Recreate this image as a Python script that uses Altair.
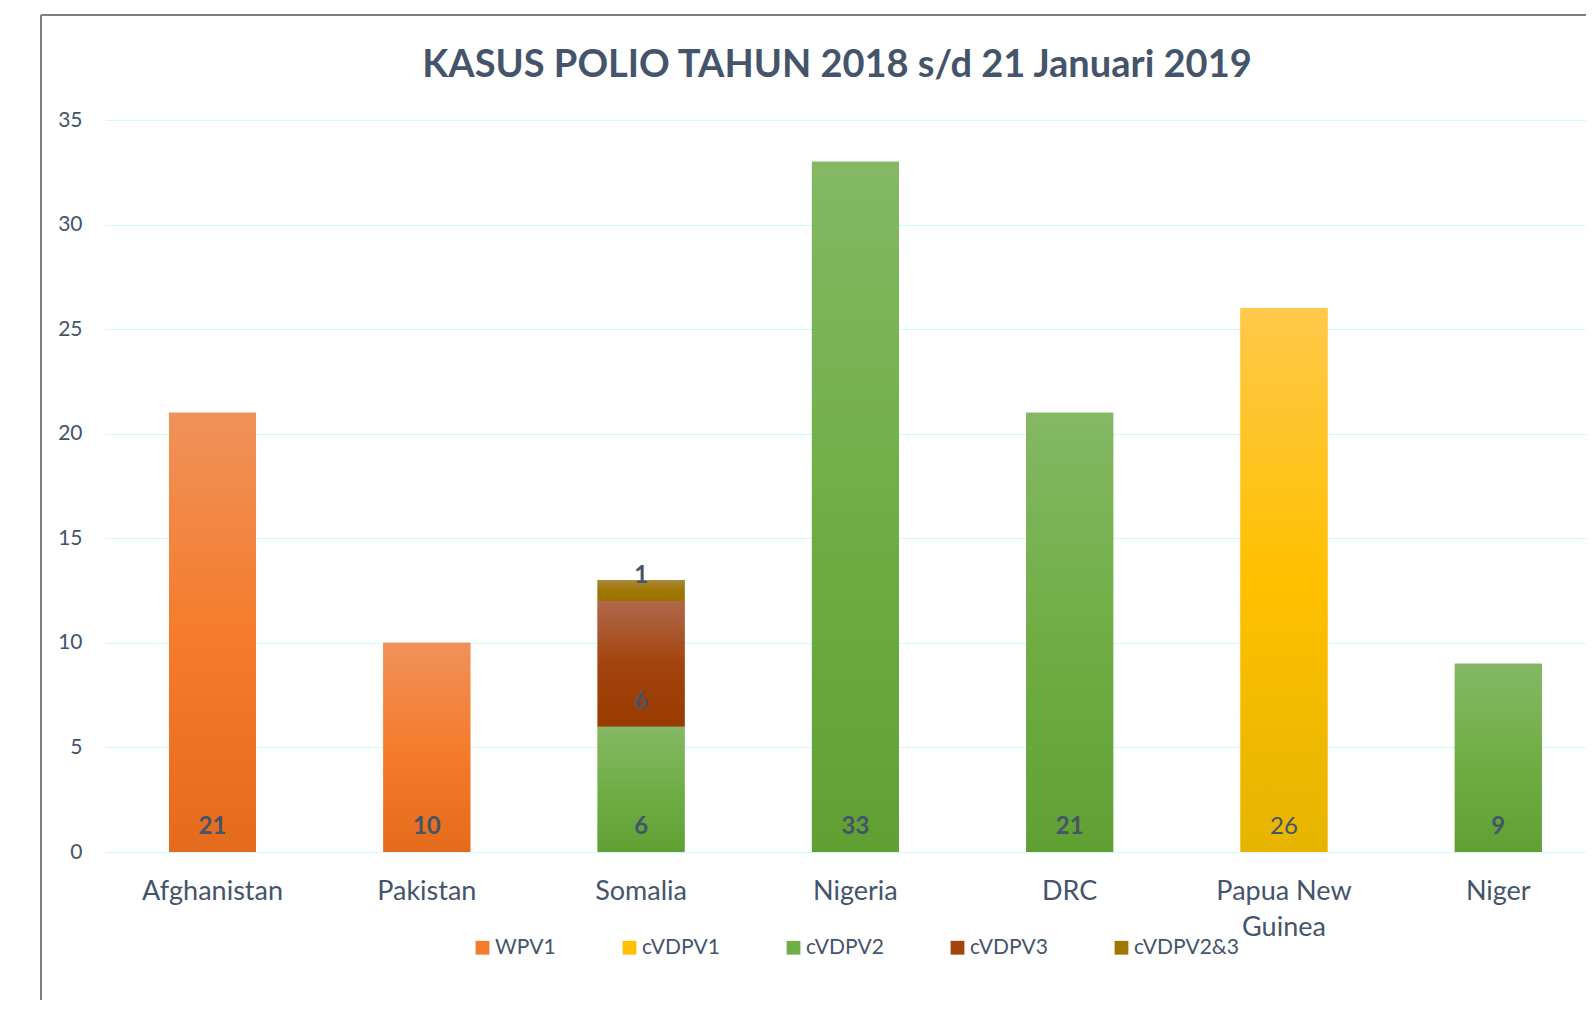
import altair as alt
import pandas as pd

# ---- data ----
countries = ["Afghanistan", "Pakistan", "Somalia", "Nigeria", "DRC", "Papua New Guinea", "Niger"]
series_names = ["WPV1", "cVDPV1", "cVDPV2", "cVDPV3", "cVDPV2&3"]
row_country = ["Afghanistan", "Pakistan", "Somalia", "Somalia", "Somalia", "Nigeria", "DRC", "Papua New Guinea", "Niger"]
row_series = ["WPV1", "WPV1", "cVDPV2", "cVDPV3", "cVDPV2&3", "cVDPV2", "cVDPV2", "cVDPV1", "cVDPV2"]
row_value = [21, 10, 6, 6, 1, 33, 21, 26, 9]
y_ticks = [0, 5, 10, 15, 20, 25, 30, 35]
title_text = "KASUS POLIO TAHUN 2018 s/d 21 Januari 2019"

solid_colors = ["#f37c2c", "#ffc000", "#70ad47", "#a3440f", "#9e7600"]
grad_stops = {
    "WPV1": ["#f0915a", "#f47c2c", "#e46b1c"],
    "cVDPV1": ["#ffc84a", "#ffc000", "#e6b400"],
    "cVDPV2": ["#84b865", "#70ae45", "#60a033"],
    "cVDPV3": ["#b0684a", "#a3440f", "#993a00"],
    "cVDPV2&3": ["#a8883c", "#9e7600", "#9a7200"],
}

df = pd.DataFrame({"country": row_country, "series": row_series, "value": row_value})
df["order"] = [series_names.index(s) for s in df["series"]]

TEXT = "#44546a"
FONT = "Lato"
W, H = 1481, 732

xscale = alt.Scale(domain=countries, paddingInner=0.594, paddingOuter=0.2525, align=0.5915, round=False)
xenc = alt.X(
    "country:N",
    sort=countries,
    scale=xscale,
    axis=alt.Axis(
        title=None,
        labelFont=FONT,
        labelFontSize=27,
        labelColor=TEXT,
        labelAngle=0,
        labelPadding=26,
        labelLineHeight=36,
        labelExpr="datum.label == 'Papua New Guinea' ? ['Papua New', 'Guinea'] : datum.label",
        ticks=False,
        domain=False,
        grid=False,
    ),
)
yscale = alt.Scale(domain=[0, 35], nice=False)
yenc = alt.Y(
    "y0:Q",
    scale=yscale,
    axis=alt.Axis(
        title=None,
        values=y_ticks,
        labelFont=FONT,
        labelFontSize=21,
        labelColor=TEXT,
        labelPadding=23,
        ticks=False,
        domain=False,
        grid=True,
        gridColor="#cdfafa",
        gridWidth=1,
    ),
)

base = alt.Chart(df).transform_stack(
    stack="value", groupby=["country"], as_=["y0", "y1"], sort=[alt.SortField("order")]
)

solid = base.mark_bar().encode(
    x=xenc,
    y=yenc,
    y2="y1:Q",
    color=alt.Color(
        "series:N",
        scale=alt.Scale(domain=series_names, range=solid_colors),
        sort=series_names,
        legend=alt.Legend(
            title=None,
            orient="none",
            direction="horizontal",
            legendX=367,
            legendY=817,
            labelFont=FONT,
            labelFontSize=21,
            labelColor=TEXT,
            symbolType="square",
            symbolSize=190,
            symbolStrokeWidth=0,
            labelOffset=2,
            columnPadding=63,
            padding=0,
        ),
    ),
)

layers = [solid]
for s in series_names:
    st = grad_stops[s]
    grad = alt.Gradient(
        gradient="linear",
        x1=0, y1=0, x2=0, y2=1,
        stops=[
            alt.GradientStop(offset=0, color=st[0]),
            alt.GradientStop(offset=0.5, color=st[1]),
            alt.GradientStop(offset=1, color=st[2]),
        ],
    )
    layers.append(
        base.transform_filter(alt.datum.series == s)
        .mark_bar(fill=grad)
        .encode(x=xenc, y=yenc, y2="y1:Q")
    )

labels_bold = base.transform_filter("datum.series != 'cVDPV1'").mark_text(
    font=FONT, fontSize=24, fontWeight="bold", color=TEXT, baseline="alphabetic", dy=-18
).encode(x=xenc, y=yenc, text="value:Q")
labels_norm = base.transform_filter("datum.series == 'cVDPV1'").mark_text(
    font=FONT, fontSize=24, fontWeight="normal", color=TEXT, baseline="alphabetic", dy=-18
).encode(x=xenc, y=yenc, text="value:Q")
layers += [labels_bold, labels_norm]

one = pd.DataFrame({"k": [0]})
vline = alt.Chart(one).mark_rule(color="#7f7f7f", strokeWidth=2).encode(
    x=alt.value(-64), y=alt.value(-105), y2=alt.value(900)
)
hline = alt.Chart(one).mark_rule(color="#7f7f7f", strokeWidth=2).encode(
    x=alt.value(-64), x2=alt.value(W + 20), y=alt.value(-105)
)
title = alt.Chart(one).mark_text(
    text=title_text, font=FONT, fontSize=38, fontWeight="bold", color=TEXT,
    align="center", baseline="alphabetic",
).encode(x=alt.value(732), y=alt.value(-43))
layers += [vline, hline, title]

chart = alt.layer(*layers).properties(
    width=W,
    height=H,
    autosize=alt.AutoSizeParams(type="none"),
    padding={"left": 97, "top": 112, "right": 0, "bottom": 148},
    background="white",
).configure_view(stroke=None)

chart.save("out.html", embed_options={"renderer": "svg", "actions": False})
